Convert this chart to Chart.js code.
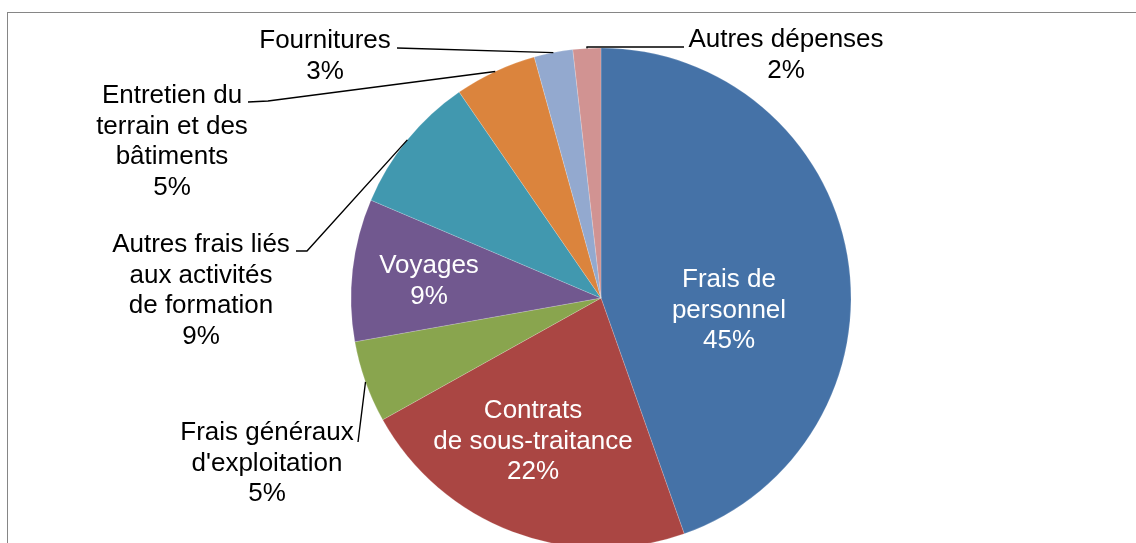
<!DOCTYPE html>
<html>
<head>
<meta charset="utf-8">
<script src="https://cdn.jsdelivr.net/npm/chart.js@4.4.1/dist/chart.umd.min.js"></script>
<style>
  html, body { margin: 0; padding: 0; background: #ffffff; overflow: hidden; }
  #wrap { position: relative; width: 1136px; height: 543px; }
</style>
</head>
<body>
<div id="wrap"><canvas id="depensesPie"></canvas></div>
<script>
// ==== Données ====
const categories = [
    ['Frais de', 'personnel'],
    ['Contrats', 'de sous-traitance'],
    ['Frais généraux', "d'exploitation"],
    ['Voyages'],
    ['Autres frais liés', 'aux activités', 'de formation'],
    ['Entretien du', 'terrain et des', 'bâtiments'],
    ['Fournitures'],
    ['Autres dépenses']
];
const values = [44.6, 22.3, 5.3, 9.2, 9.0, 5.3, 2.5, 1.8];
const sliceColors = ['#4572A7', '#AA4643', '#89A54E', '#71588F', '#4198AF', '#DB843D', '#93A9CF', '#D19392'];

// ==== Placement des étiquettes (x centre, ligne de base de la 1re ligne) ====
const labelLayout = [
    { x: 729, y: 287, color: '#ffffff' },
    { x: 533, y: 418, color: '#ffffff' },
    { x: 267, y: 440, color: '#000000', leader: [[358, 442]] },
    { x: 429, y: 273, color: '#ffffff' },
    { x: 201, y: 252, color: '#000000', leader: [[296, 251], [307, 251]] },
    { x: 172, y: 103, color: '#000000', leader: [[248, 102], [268, 101]] },
    { x: 325, y: 48, color: '#000000', leader: [[397, 48]] },
    { x: 786, y: 47, color: '#000000', leader: [[684, 47], [587, 47]] }
];
const lineHeight = 30.5;
const labelFont = '26px "Liberation Sans", Arial, sans-serif';

const total = values.reduce((a, b) => a + b, 0);

// ==== Cadre gris ====
const framePlugin = {
    id: 'frame',
    beforeDraw(chart) {
        const ctx = chart.ctx;
        ctx.save();
        ctx.strokeStyle = '#868686';
        ctx.lineWidth = 1;
        ctx.strokeRect(7.5, 12.5, 1300, 700);
        ctx.restore();
    }
};

// ==== Étiquettes + lignes de rappel ====
const labelPlugin = {
    id: 'pieLabels',
    afterDatasetsDraw(chart) {
        const ctx = chart.ctx;
        const meta = chart.getDatasetMeta(0);
        ctx.save();
        ctx.font = labelFont;
        ctx.textAlign = 'center';
        ctx.textBaseline = 'alphabetic';
        meta.data.forEach((arc, i) => {
            const lay = labelLayout[i];
            const p = arc.getProps(['x', 'y', 'startAngle', 'endAngle', 'outerRadius'], true);
            if (lay.leader) {
                const mid = (p.startAngle + p.endAngle) / 2;
                const ex = p.x + Math.cos(mid) * p.outerRadius;
                const ey = p.y + Math.sin(mid) * p.outerRadius;
                ctx.beginPath();
                ctx.strokeStyle = '#000000';
                ctx.lineWidth = 1.4;
                lay.leader.forEach((pt, k) => {
                    if (k === 0) ctx.moveTo(pt[0], pt[1]);
                    else ctx.lineTo(pt[0], pt[1]);
                });
                ctx.lineTo(ex, ey);
                ctx.stroke();
            }
            const pct = Math.round(values[i] / total * 100) + '%';
            const lines = categories[i].concat([pct]);
            ctx.fillStyle = lay.color;
            lines.forEach((txt, k) => {
                ctx.fillText(txt, lay.x, lay.y + k * lineHeight);
            });
        });
        ctx.restore();
    }
};

new Chart(document.getElementById('depensesPie'), {
    type: 'pie',
    data: {
        labels: categories.map(c => c.join(' ')),
        datasets: [{
            data: values,
            backgroundColor: sliceColors,
            borderColor: 'rgba(255,255,255,0.35)',
            borderWidth: 0.5,
            radius: 250
        }]
    },
    options: {
        responsive: true,
        maintainAspectRatio: false,
        animation: false,
        layout: { padding: { left: 66, top: 53, right: 0, bottom: 0 } },
        plugins: {
            legend: { display: false },
            tooltip: { enabled: false }
        }
    },
    plugins: [framePlugin, labelPlugin]
});
</script>
</body>
</html>
